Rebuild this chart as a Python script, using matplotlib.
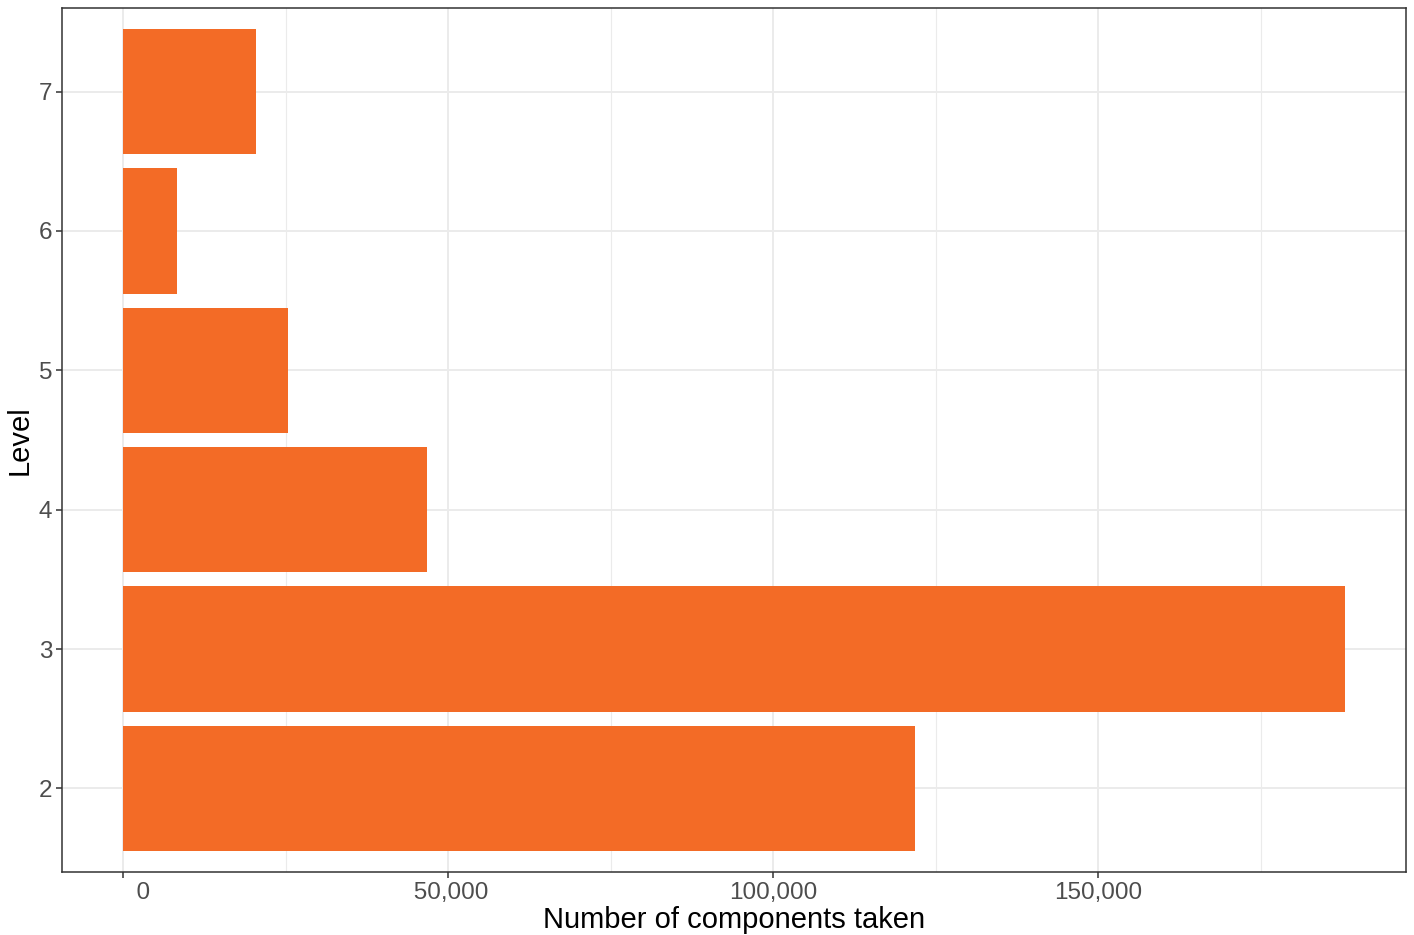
import numpy as np
from matplotlib import pyplot as plt
from matplotlib.ticker import FixedLocator

# values
levels = [2, 3, 4, 5, 6, 7]
components = [121800, 187900, 46800, 25400, 8300, 20500]
x_ticks = [0, 50000, 100000, 150000]
x_labels = ["      0", " 50,000", "100,000", "150,000"]
x_minor = [25000, 75000, 125000, 175000]

plt.rcParams['font.family'] = ['Liberation Sans', 'DejaVu Sans']

fig = plt.figure(figsize=(14.14, 9.35), dpi=100)
ax = fig.add_axes([0.0438, 0.0674, 0.9505, 0.924])

ax.barh(levels, components, height=0.9, color="#F36B26", zorder=2)

xmax = max(components)
ax.set_xlim(-0.05 * xmax, xmax * 1.05)
ax.set_ylim(min(levels) - 0.6, max(levels) + 0.6)

ax.set_xticks(x_ticks)
ax.set_xticklabels(x_labels)
ax.xaxis.set_minor_locator(FixedLocator(x_minor))
ax.set_yticks(levels)
ax.set_yticklabels([str(l) for l in levels])

ax.grid(True, which="major", color="#EBEBEB", linewidth=1.4, zorder=0)
ax.grid(True, which="minor", axis="x", color="#EBEBEB", linewidth=0.8, zorder=0)
ax.set_axisbelow(True)

for s in ax.spines.values():
    s.set_color("#333333")
    s.set_linewidth(1.1)

ax.tick_params(axis="both", which="major", length=4, width=1.1, color="#333333",
               labelsize=17.5, labelcolor="#4D4D4D", pad=3)
ax.tick_params(axis="x", which="minor", length=0)

ax.set_xlabel("Number of components taken", fontsize=21, color="black", labelpad=2)
ax.set_ylabel("Level", fontsize=21, color="black", labelpad=3.5)

fig.savefig("out.png", dpi=100, facecolor="white")
